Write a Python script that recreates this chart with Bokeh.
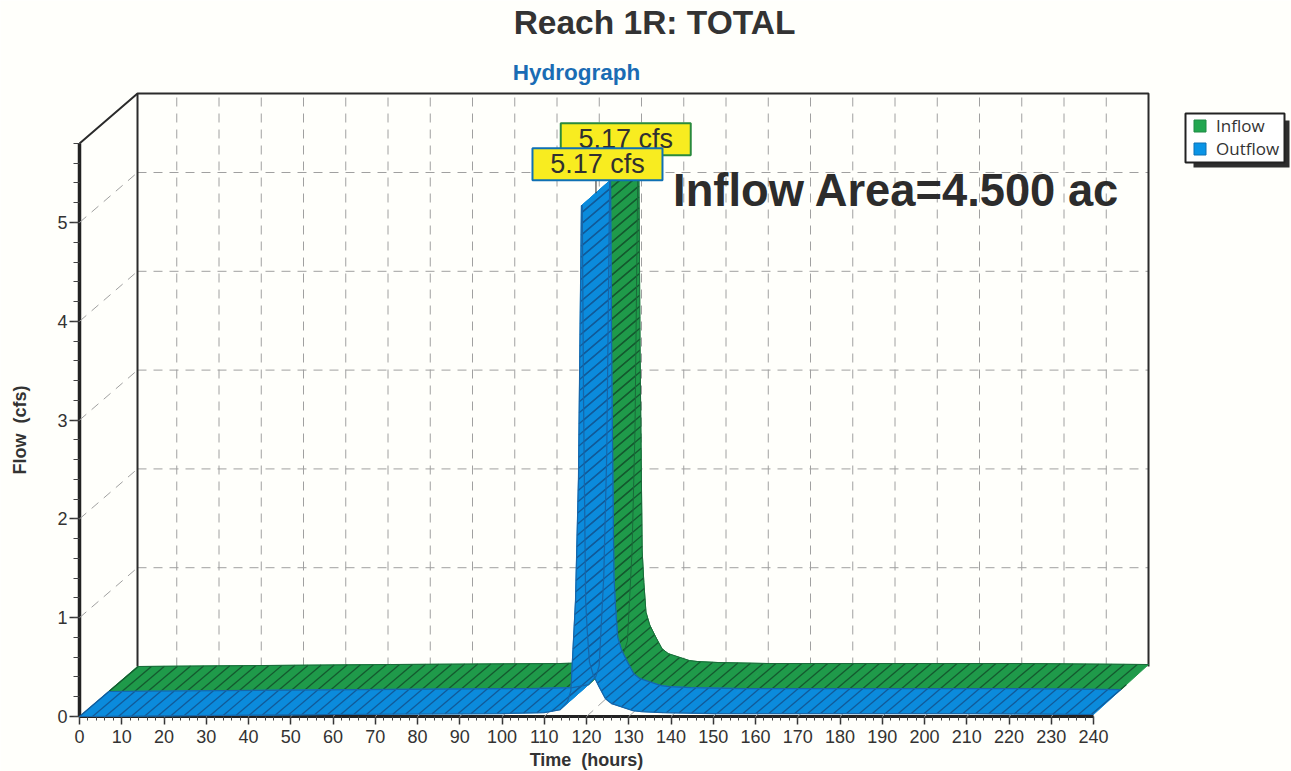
from bokeh.plotting import figure
from bokeh.embed import file_html
from bokeh.resources import INLINE
from bokeh.core.properties import value
from bokeh.models import LinearAxis, FixedTicker, Range1d, Legend, LegendItem, Label

# ---- data ----
time_h  = [0, 60, 100, 110, 113.8, 115.5, 116.3, 117.4, 118.1, 118.8, 119.0, 119.3, 119.8, 120.2, 120.7, 121.6, 123, 124.5, 126, 131, 133, 138, 150, 210, 240]
inflow  = [0, 0.02, 0.03, 0.04, 0.07, 0.15, 0.26, 1.17, 2.4, 5.17, 5.17, 3.2, 1.17, 0.85, 0.55, 0.42, 0.30, 0.18, 0.13, 0.06, 0.05, 0.04, 0.03, 0.03, 0.02]
outflow = [0, 0.02, 0.03, 0.04, 0.07, 0.15, 0.26, 1.17, 2.4, 5.17, 5.17, 3.2, 1.17, 0.85, 0.55, 0.42, 0.30, 0.18, 0.13, 0.06, 0.05, 0.04, 0.03, 0.03, 0.02]
x_ticks = list(range(0, 250, 10))
y_ticks = [0, 1, 2, 3, 4, 5]
y_top = 5.8
title_main = "Reach 1R: TOTAL"
title_sub = "Hydrograph"
area_note = "Inflow Area=4.500 ac"
GREEN, BLUE = "#1f9a4a", "#0b8bdc"
GREEN_D, BLUE_D = "#15592f", "#125a98"

# ---- page geometry ----
W, H = 1291, 771
X0, Y0 = 79, 716            # page pixel of t=0, flow=0
SX, SY = 4.225, 98.8        # pixels per hour, pixels per cfs
def px(x): return (x - X0) / SX
def py(y): return (Y0 - y) / SY
def wx(t, d): return t + d * (13.73 - 0.00296 * t)   # depth d: 0 front, 1 back wall
def wy(f, d): return f + d * 0.506
GRID_DX = 13.02             # back-wall grid shift, hours

p = figure(width=W, height=H, output_backend="svg", toolbar_location=None,
           x_range=Range1d(px(0), px(W)), y_range=Range1d(py(H), py(0)),
           x_axis_type=None, y_axis_type=None, min_border=0,
           background_fill_color="#fffffb", border_fill_color="#fffffb", outline_line_color=None)
p.grid.visible = False

# ---- grid, dashed ----
GRID = dict(line_color="#a0a0a0", line_width=1, line_dash="9 7")
p.multi_line([[t + GRID_DX, t + GRID_DX] for t in x_ticks[1:-1]], [[wy(0, 1), wy(y_top, 1)] for t in x_ticks[1:-1]], **GRID)
p.multi_line([[wx(0, 1), wx(240, 1)] for f in y_ticks[1:]], [[wy(f, 1), wy(f, 1)] for f in y_ticks[1:]], **GRID)
p.multi_line([[0, wx(0, 1)] for f in y_ticks[1:]], [[f, wy(f, 1)] for f in y_ticks[1:]], **GRID)
p.multi_line([[t, t + GRID_DX] for t in x_ticks[1:-1]], [[0, wy(0, 1)] for t in x_ticks[1:-1]], **GRID)

# ---- back wall and top frame ----
WALL = dict(line_color="#2b2b2b", line_width=2)
p.line([0, wx(0, 1), wx(240, 1), wx(240, 1)],
       [y_top, wy(y_top, 1), wy(y_top, 1), wy(0, 1)], **WALL)
p.line([wx(0, 1), wx(0, 1)], [wy(0, 1), wy(y_top, 1)], **WALL)

# ---- axes at fixed data positions ----
xa = LinearAxis(ticker=FixedTicker(ticks=x_ticks, minor_ticks=[t for t in range(0, 241, 2)]),
                fixed_location=0, axis_label="Time\u00a0\u00a0(hours)", bounds=(0, 240))
ya = LinearAxis(ticker=FixedTicker(ticks=y_ticks, minor_ticks=[i * 0.2 for i in range(0, 30)]),
                fixed_location=0, axis_label="Flow\u00a0\u00a0(cfs)", bounds=(0, y_top))
for a in (xa, ya):
    a.level = "underlay"
    a.axis_line_color = "#222222"
    a.axis_line_width = 3
    a.major_tick_line_color = "#333333"
    a.minor_tick_line_color = "#444444"
    a.major_tick_line_width = 1.5
    a.major_tick_in = 0
    a.minor_tick_in = 0
    a.major_label_text_font = "Liberation Sans"
    a.major_label_text_font_size = "18px"
    a.major_label_text_color = "#333333"
    a.axis_label_text_font = "Liberation Sans"
    a.axis_label_text_font_style = "bold"
    a.axis_label_text_font_size = "18px"
    a.axis_label_text_color = "#333333"
ya.axis_line_width = 3.5
xa.major_tick_out, xa.minor_tick_out = 8, 4
ya.major_tick_out, ya.minor_tick_out = 10, 6
xa.major_label_standoff = 5
ya.major_label_standoff = 2
xa.axis_label_standoff = 4
ya.axis_label_standoff = 24
p.add_layout(xa, "below")
p.add_layout(ya, "left")

# ---- ribbons: flat quads plus a diagonal line hatch clipped to each quad ----
HATCH_M, HATCH_GAP = 0.85, 11.0      # slope and vertical gap, in pixels

def hatch_segments(qx, qy):
    pts = [(x * SX, y * SY) for x, y in zip(qx, qy)]
    g = [v - HATCH_M * u for u, v in pts]
    k = int(min(g) // HATCH_GAP)
    segs = []
    while k * HATCH_GAP <= max(g):
        c = k * HATCH_GAP
        hits = []
        for i in range(4):
            j = (i + 1) % 4
            g0, g1 = g[i] - c, g[j] - c
            if (g0 <= 0 < g1) or (g1 <= 0 < g0):
                s = g0 / (g0 - g1)
                hits.append((pts[i][0] + s * (pts[j][0] - pts[i][0]), pts[i][1] + s * (pts[j][1] - pts[i][1])))
        if len(hits) >= 2:
            hits.sort()
            segs.append(([hits[0][0] / SX, hits[-1][0] / SX], [hits[0][1] / SY, hits[-1][1] / SY]))
        k += 1
    return segs

def strip(flow, d0, d1, fill, hatch):
    xs, ys, hx, hy = [], [], [], []
    for i in range(len(time_h) - 1):
        t0, t1, f0, f1 = time_h[i], time_h[i + 1], flow[i], flow[i + 1]
        qx = [wx(t0, d0), wx(t1, d0), wx(t1, d1), wx(t0, d1)]
        qy = [wy(f0, d0), wy(f1, d0), wy(f1, d1), wy(f0, d1)]
        xs.append(qx)
        ys.append(qy)
        for a, b in hatch_segments(qx, qy):
            hx.append(a)
            hy.append(b)
    p.patches(xs, ys, fill_color=fill, line_color=fill, line_width=1)
    p.multi_line(hx, hy, line_color=hatch, line_width=1.3, line_alpha=1)

strip(inflow, 0.5, 1.0, GREEN, GREEN_D)
p.line([wx(t, 1) for t in time_h], [wy(f, 1) for f in inflow], line_color="#1a6b3a", line_width=1)
strip(outflow, 0.0, 0.5, BLUE, BLUE_D)
p.line([wx(t, 0.5) for t in time_h], [wy(f, 0.5) for f in outflow], line_color="#1765a8", line_width=1.2)
p.line([wx(t, 0) for t in time_h], [wy(f, 0) for f in outflow], line_color="#1765a8", line_width=1.2)

# ---- peak callouts ----
def callout(flow, depth, edge):
    k = flow.index(max(flow))
    ax, ay = wx(time_h[k] + 0.1, depth), wy(flow[k], depth)
    p.line([ax, ax], [ay, ay + 29 / SY], line_color="#222222", line_width=1)
    cx, cy = ax + 1.5 / SX, ay + 29 / SY
    p.quad(left=[cx - 65 / SX], right=[cx + 65 / SX], bottom=[cy - 16 / SY], top=[cy + 16 / SY],
           fill_color="#f8ec20", line_color=edge, line_width=2)
    p.text([cx], [cy], text=[f"{flow[k]:.2f} cfs"], text_font=value("Liberation Sans"),
           text_font_size="27px", text_color="#303030", text_align="center", text_baseline="middle")

callout(inflow, 0.75, "#2a8a3c")
callout(outflow, 0.25, "#0f70b4")

# ---- texts ----
def label(x, y, txt, size, color="#333333", style="bold", font="Liberation Sans"):
    p.add_layout(Label(x=px(x), y=py(y), text=txt, text_font=font, text_font_size=size, text_color=color,
                       text_font_style=style, text_align="center", text_baseline="middle"))

label(654, 22, title_main, "33.5px")
label(576, 72, title_sub, "22.5px", color="#1a6cb4")
label(896, 190, area_note, "45.3px", color="#2c2c2c")

# ---- legend box with its shadow ----
p.quad(left=[px(1193)], right=[px(1289)], top=[py(120)], bottom=[py(167)],
       fill_color="#2e2e2e", line_color=None)
p.quad(left=[px(1185)], right=[px(1284)], top=[py(113)], bottom=[py(162)],
       fill_color="#ffffff", line_color="#222222", line_width=2)
nan = float("nan")
r_in = p.quad(left=[nan], right=[nan], top=[nan], bottom=[nan], fill_color="#22a650", line_color="#1f8a44")
r_out = p.quad(left=[nan], right=[nan], top=[nan], bottom=[nan], fill_color="#0a94e6", line_color="#0d70b4")
legend = Legend(items=[LegendItem(label="Inflow", renderers=[r_in]), LegendItem(label="Outflow", renderers=[r_out])],
                location=(1192, H - 160), glyph_width=15, glyph_height=15,
                label_text_font="Open Sans", label_text_font_size="17px", label_text_color="#333333",
                label_standoff=9, padding=3, margin=0, spacing=0,
                border_line_color=None, background_fill_alpha=0)
p.add_layout(legend)

open("out.html", "w").write(file_html(p, INLINE))
